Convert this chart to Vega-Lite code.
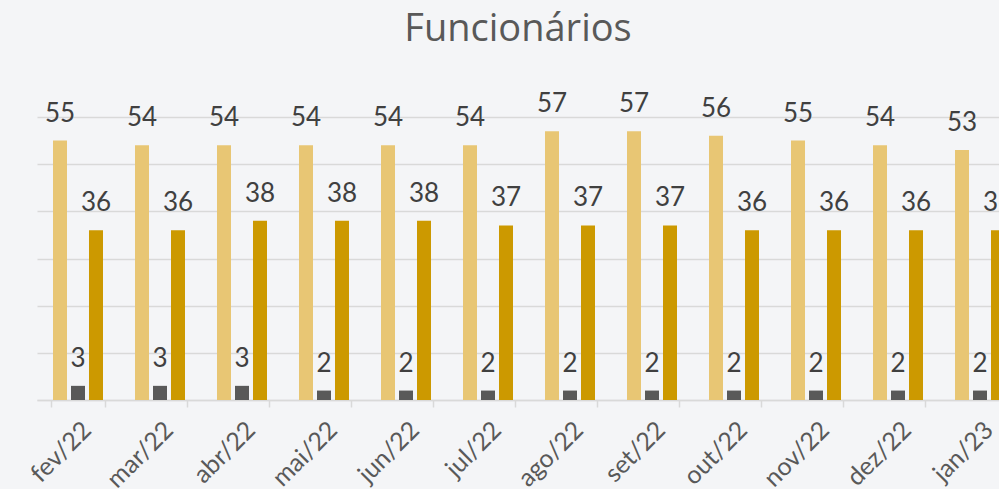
{
  "$schema": "https://vega.github.io/schema/vega-lite/v6.json",
  "width": 962,
  "height": 283,
  "autosize": {"type": "none"},
  "padding": {"left": 37, "top": 117, "right": 0, "bottom": 89},
  "background": "#F4F5F7",
  "config": {"view": {"stroke": null}},
  "title": {"text": "Funcionários", "fontSize": 38, "font": "Open Sans", "fontWeight": "normal", "color": "#595959", "anchor": "middle", "frame": "group", "offset": 42},
  "data": {"values": [
    {"mes": "fev/22", "serie": "Total", "valor": 55}, {"mes": "fev/22", "serie": "Afastados", "valor": 3}, {"mes": "fev/22", "serie": "Ativos", "valor": 36},
    {"mes": "mar/22", "serie": "Total", "valor": 54}, {"mes": "mar/22", "serie": "Afastados", "valor": 3}, {"mes": "mar/22", "serie": "Ativos", "valor": 36},
    {"mes": "abr/22", "serie": "Total", "valor": 54}, {"mes": "abr/22", "serie": "Afastados", "valor": 3}, {"mes": "abr/22", "serie": "Ativos", "valor": 38},
    {"mes": "mai/22", "serie": "Total", "valor": 54}, {"mes": "mai/22", "serie": "Afastados", "valor": 2}, {"mes": "mai/22", "serie": "Ativos", "valor": 38},
    {"mes": "jun/22", "serie": "Total", "valor": 54}, {"mes": "jun/22", "serie": "Afastados", "valor": 2}, {"mes": "jun/22", "serie": "Ativos", "valor": 38},
    {"mes": "jul/22", "serie": "Total", "valor": 54}, {"mes": "jul/22", "serie": "Afastados", "valor": 2}, {"mes": "jul/22", "serie": "Ativos", "valor": 37},
    {"mes": "ago/22", "serie": "Total", "valor": 57}, {"mes": "ago/22", "serie": "Afastados", "valor": 2}, {"mes": "ago/22", "serie": "Ativos", "valor": 37},
    {"mes": "set/22", "serie": "Total", "valor": 57}, {"mes": "set/22", "serie": "Afastados", "valor": 2}, {"mes": "set/22", "serie": "Ativos", "valor": 37},
    {"mes": "out/22", "serie": "Total", "valor": 56}, {"mes": "out/22", "serie": "Afastados", "valor": 2}, {"mes": "out/22", "serie": "Ativos", "valor": 36},
    {"mes": "nov/22", "serie": "Total", "valor": 55}, {"mes": "nov/22", "serie": "Afastados", "valor": 2}, {"mes": "nov/22", "serie": "Ativos", "valor": 36},
    {"mes": "dez/22", "serie": "Total", "valor": 54}, {"mes": "dez/22", "serie": "Afastados", "valor": 2}, {"mes": "dez/22", "serie": "Ativos", "valor": 36},
    {"mes": "jan/23", "serie": "Total", "valor": 53}, {"mes": "jan/23", "serie": "Afastados", "valor": 2}, {"mes": "jan/23", "serie": "Ativos", "valor": 36}
  ]},
  "encoding": {
    "x": {"field": "mes", "type": "nominal", "sort": null,
      "scale": {"range": [0, 984], "paddingInner": 0.3415, "paddingOuter": 0.1707},
      "axis": {"title": null, "grid": false, "domainColor": "#D9D9D9", "domainWidth": 1.5, "tickColor": "#D9D9D9", "tickWidth": 1.5, "tickSize": 7, "tickBand": "extent", "labelAngle": -45, "labelFontSize": 25, "labelFont": "Lato", "labelColor": "#595959", "labelPadding": 10}},
    "xOffset": {"field": "serie", "type": "nominal", "sort": ["Total", "Afastados", "Ativos"], "scale": {"paddingInner": 0.222, "paddingOuter": 0.111}},
    "y": {"field": "valor", "type": "quantitative", "scale": {"domain": [0, 60]},
      "axis": {"title": null, "grid": true, "gridColor": "#D9D9D9", "gridWidth": 1.5, "labels": false, "ticks": false, "domain": false, "values": [0, 10, 20, 30, 40, 50, 60]}}
  },
  "layer": [
    {"mark": {"type": "bar"},
     "encoding": {"color": {"field": "serie", "type": "nominal", "legend": null,
       "scale": {"domain": ["Total", "Afastados", "Ativos"], "range": ["#E8C674", "#595959", "#CC9900"]}}}},
    {"mark": {"type": "text", "baseline": "bottom", "dy": -14, "font": "Lato", "fontSize": 26, "color": "#404040"},
     "encoding": {"text": {"field": "valor", "type": "quantitative"}}}
  ]
}
